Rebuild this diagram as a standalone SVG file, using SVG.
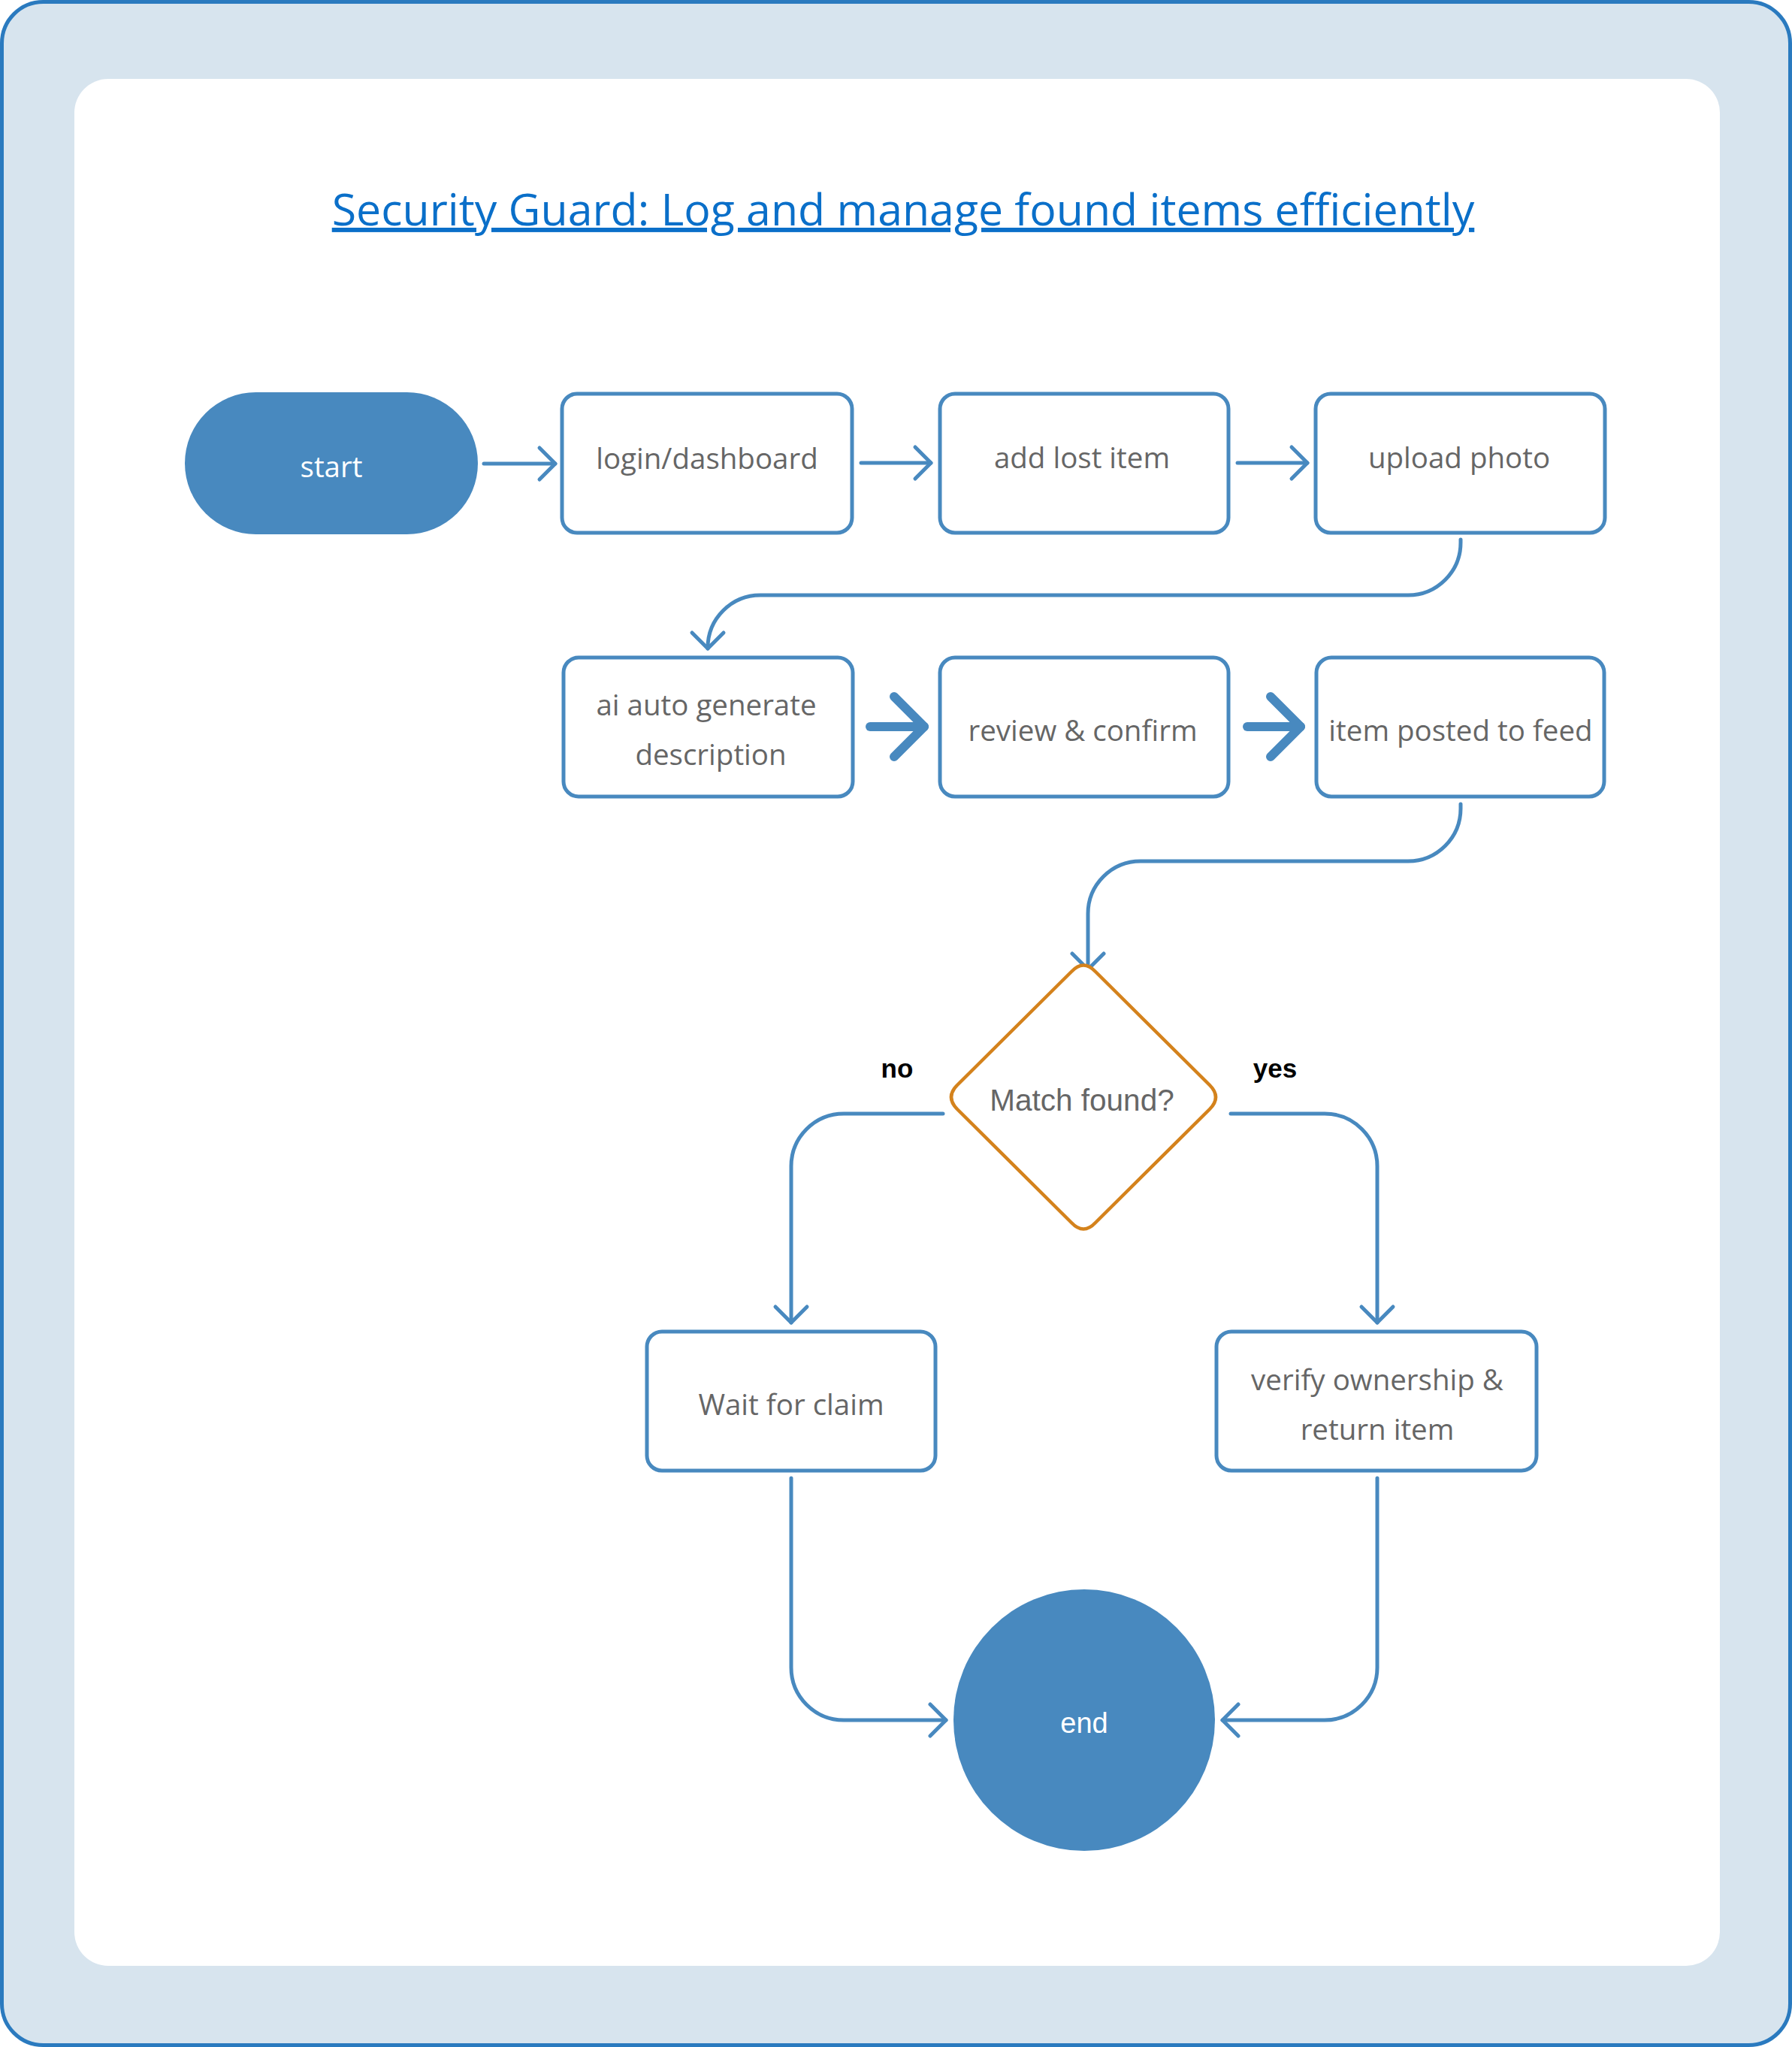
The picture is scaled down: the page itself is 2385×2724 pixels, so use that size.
<svg xmlns="http://www.w3.org/2000/svg" width="2385" height="2724" viewBox="0 0 2385 2724">
<defs>
<style>
.box{fill:#ffffff;stroke:#4889bf;stroke-width:5}
.term{fill:#4889bf}
.lbl{font-family:"Open Sans","Liberation Sans",sans-serif;font-size:38.5px;fill:#666666;text-anchor:middle}
.wlbl{font-family:"Open Sans","Liberation Sans",sans-serif;font-size:38.5px;fill:#ffffff;text-anchor:middle}
.alb{font-family:"Liberation Sans",Arial,sans-serif;font-size:40.5px;fill:#666666;text-anchor:middle}
.edge{fill:none;stroke:#4889bf;stroke-width:5;stroke-linecap:round}
.thick{fill:none;stroke:#4889bf;stroke-width:12;stroke-linecap:round}
.elbl{font-family:"Liberation Sans",Arial,sans-serif;font-size:35px;font-weight:bold;fill:#000000;text-anchor:middle}
</style>
<marker id="arr" markerUnits="userSpaceOnUse" markerWidth="60" markerHeight="60" viewBox="-30 -30 60 60" refX="0" refY="0" orient="auto" overflow="visible">
<path d="M-21,-21 L0,0 L-21,21" fill="none" stroke="#4889bf" stroke-width="5" stroke-linecap="round" stroke-linejoin="round"/>
</marker>
<marker id="arrB" markerUnits="userSpaceOnUse" markerWidth="100" markerHeight="100" viewBox="-50 -50 100 100" refX="0" refY="0" orient="auto" overflow="visible">
<path d="M-40,-40 L0,0 L-40,40" fill="none" stroke="#4889bf" stroke-width="12" stroke-linecap="round" stroke-linejoin="round"/>
</marker>
</defs>
<rect x="2.5" y="2.5" width="2380" height="2719" rx="55" ry="55" fill="#d7e4ee" stroke="#2a7abf" stroke-width="5"/>
<rect x="99" y="105" width="2190" height="2511" rx="45" ry="45" fill="#ffffff"/>
<text x="1202" y="300" font-family="'Open Sans','Liberation Sans',sans-serif" font-size="59" font-weight="500" fill="#0a6fc9" text-anchor="middle" text-decoration="underline">Security Guard: Log and manage found items efficiently</text>

<g id="connectors">
<line class="edge" x1="644" y1="617" x2="739" y2="617" marker-end="url(#arr)"/>
<line class="edge" x1="1146" y1="616" x2="1239" y2="616" marker-end="url(#arr)"/>
<line class="edge" x1="1647" y1="616" x2="1740" y2="616" marker-end="url(#arr)"/>
<path class="edge" d="M1944,718 L1944,722 A70,70 0 0 1 1874,792 L1012,792 A70,70 0 0 0 942,862 L942,863" marker-end="url(#arr)"/>
<line class="thick" x1="1158" y1="967" x2="1230" y2="967" marker-end="url(#arrB)"/>
<line class="thick" x1="1660" y1="967" x2="1731" y2="967" marker-end="url(#arrB)"/>
<path class="edge" d="M1944,1070 L1944,1076 A70,70 0 0 1 1874,1146 L1518,1146 A70,70 0 0 0 1448,1216 L1448,1290" marker-end="url(#arr)"/>
<path class="edge" d="M1255,1482 L1123,1482 A70,70 0 0 0 1053,1552 L1053,1760" marker-end="url(#arr)"/>
<path class="edge" d="M1638,1482 L1763,1482 A70,70 0 0 1 1833,1552 L1833,1760" marker-end="url(#arr)"/>
<path class="edge" d="M1053,1967 L1053,2219 A70,70 0 0 0 1123,2289 L1259,2289" marker-end="url(#arr)"/>
<path class="edge" d="M1833,1967 L1833,2219 A70,70 0 0 1 1763,2289 L1627,2289" marker-end="url(#arr)"/>
<text class="elbl" x="1194" y="1434">no</text>
<text class="elbl" x="1697" y="1434">yes</text>
</g>

<g id="start">
<rect class="term" x="246" y="522" width="390" height="189" rx="94.5" ry="94.5"/>
<text class="wlbl" x="441" y="635">start</text>
</g>
<g id="login">
<rect class="box" x="748" y="524" width="386" height="185" rx="20" ry="20"/>
<text class="lbl" x="941" y="624">login/dashboard</text>
</g>
<g id="add">
<rect class="box" x="1251" y="524" width="384" height="185" rx="20" ry="20"/>
<text class="lbl" x="1440" y="623">add lost item</text>
</g>
<g id="upload">
<rect class="box" x="1751" y="524" width="385" height="185" rx="20" ry="20"/>
<text class="lbl" x="1942" y="623">upload photo</text>
</g>
<g id="aidesc">
<rect class="box" x="750" y="875" width="385" height="185" rx="20" ry="20"/>
<text class="lbl" x="940" y="952">ai auto generate</text>
<text class="lbl" x="946" y="1018">description</text>
</g>
<g id="review">
<rect class="box" x="1251" y="875" width="384" height="185" rx="20" ry="20"/>
<text class="lbl" x="1441" y="986">review &amp; confirm</text>
</g>
<g id="posted">
<rect class="box" x="1752" y="875" width="383" height="185" rx="20" ry="20"/>
<text class="lbl" x="1944" y="986">item posted to feed</text>
</g>
<g id="match">
<path d="M1426,1293 Q1442,1276 1458,1293 L1610,1444 Q1626,1460 1610,1476 L1458,1627 Q1442,1644 1426,1627 L1274,1476 Q1258,1460 1274,1444 Z" fill="#ffffff" stroke="#d4821c" stroke-width="4.5" stroke-linejoin="round"/>
<text class="alb" x="1440" y="1478">Match found?</text>
</g>
<g id="wait">
<rect class="box" x="861" y="1772" width="384" height="185" rx="20" ry="20"/>
<text class="lbl" x="1053" y="1883">Wait for claim</text>
</g>
<g id="verify">
<rect class="box" x="1619" y="1772" width="426" height="185" rx="20" ry="20"/>
<text class="lbl" x="1833" y="1850">verify ownership &amp;</text>
<text class="lbl" x="1833" y="1916">return item</text>
</g>
<g id="end">
<circle class="term" cx="1443" cy="2289" r="174"/>
<text class="alb" x="1443" y="2306" style="fill:#ffffff;font-size:38px">end</text>
</g>
</svg>
